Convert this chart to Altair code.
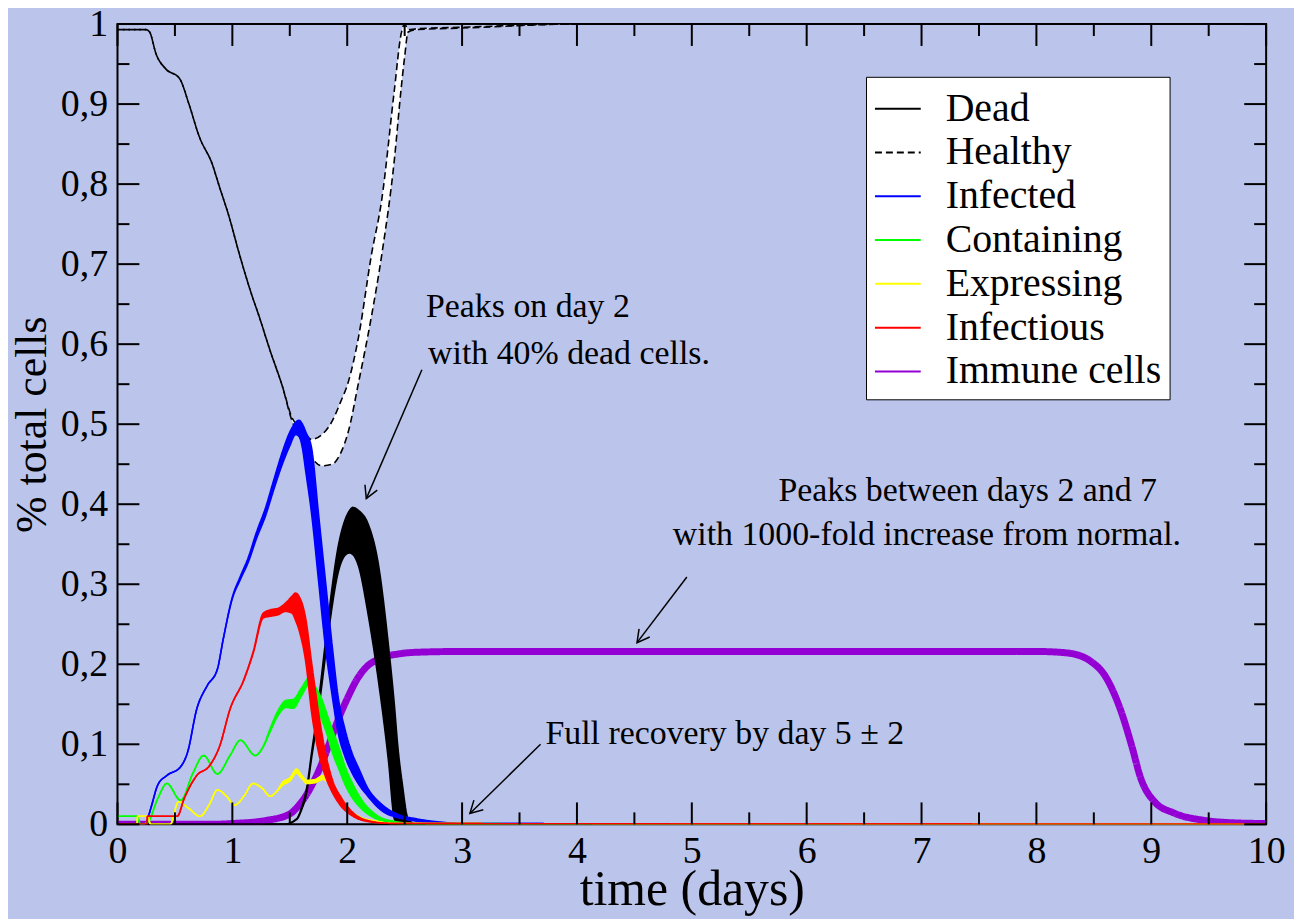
import math
import altair as alt
import pandas as pd

# ---------------- data ----------------
SERIES = ["Dead", "Healthy", "Infected", "Containing", "Expressing", "Infectious", "Immune cells"]
LINE_COLORS = ["#000000", "#000000", "#0000FF", "#00FF00", "#FFFF00", "#FF0000", "#9400D3"]
FILL_COLORS = ["#000000", "#FFFFFF", "#0000FF", "#00FF00", "#FFFF00", "#FF0000", "#9400D3"]
DASHES = [[1, 0], [7, 4], [1, 0], [1, 0], [1, 0], [1, 0], [1, 0]]

# Healthy (band: upper / lower)
healthy_x = [0, 0.25, 0.28, 0.335, 0.42, 0.54, 0.62, 0.71, 0.83, 0.88, 0.97, 1.06, 1.17, 1.23, 1.34, 1.43,
             1.52, 1.60, 1.69, 1.78, 1.87, 1.94, 2.01, 2.10, 2.21, 2.30, 2.41, 2.47, 2.50, 2.53, 2.60, 3.0, 4.0, 10]
healthy_hi = [0.993, 0.993, 0.990, 0.963, 0.944, 0.932, 0.901, 0.860, 0.823, 0.800, 0.760, 0.713, 0.661, 0.636, 0.587, 0.550,
              0.508, 0.495, 0.481, 0.487, 0.504, 0.527, 0.553, 0.610, 0.711, 0.780, 0.917, 0.988, 1.0, 0.993, 0.994, 0.996, 1.0, 1.0]
healthy_lo = [0.993, 0.993, 0.990, 0.963, 0.944, 0.932, 0.901, 0.860, 0.823, 0.800, 0.760, 0.713, 0.661, 0.636, 0.587, 0.550,
              0.504, 0.480, 0.458, 0.448, 0.450, 0.463, 0.491, 0.553, 0.634, 0.711, 0.830, 0.920, 0.959, 0.990, 0.993, 0.995, 1.0, 1.0]

# Dead
dead_x = [0, 1.45, 1.56, 1.60, 1.65, 1.69, 1.73, 1.78, 1.84, 1.92, 1.98, 2.02, 2.05, 2.10, 2.18, 2.27, 2.36, 2.41,
          2.44, 2.48, 2.53, 2.60, 10]
dead_hi = [0, 0, 0.007, 0.020, 0.048, 0.090, 0.130, 0.190, 0.264, 0.346, 0.380, 0.392, 0.396, 0.392, 0.376, 0.326, 0.222,
           0.150, 0.098, 0.050, 0.007, 0, 0]
dead_lo = [0, 0, 0.006, 0.017, 0.042, 0.083, 0.120, 0.175, 0.243, 0.314, 0.336, 0.339, 0.337, 0.322, 0.264, 0.181, 0.078,
           0.007, 0, 0, 0, 0, 0]

# Infected
inf_x = [0, 0.25, 0.26, 0.30, 0.35, 0.43, 0.55, 0.61, 0.69, 0.78, 0.87, 0.92, 1.00, 1.07, 1.14, 1.21, 1.29, 1.36, 1.43,
         1.50, 1.55, 1.58, 1.61, 1.64, 1.69, 1.75, 1.81, 1.87, 1.92, 1.98, 2.04, 2.10, 2.18, 2.30, 2.45, 2.60, 2.80, 3.00, 10]
inf_hi = [0, 0, 0.005, 0.025, 0.049, 0.061, 0.072, 0.090, 0.144, 0.173, 0.194, 0.231, 0.284, 0.310, 0.334, 0.365, 0.396,
          0.430, 0.463, 0.490, 0.502, 0.505, 0.500, 0.490, 0.470, 0.388, 0.305, 0.222, 0.160, 0.119, 0.090, 0.070, 0.045,
          0.025, 0.012, 0.007, 0.003, 0.001, 0]
inf_lo = [0, 0, 0.005, 0.025, 0.049, 0.061, 0.072, 0.090, 0.144, 0.173, 0.194, 0.231, 0.282, 0.306, 0.328, 0.357, 0.386,
          0.418, 0.448, 0.473, 0.487, 0.485, 0.470, 0.440, 0.388, 0.305, 0.222, 0.160, 0.115, 0.085, 0.065, 0.050, 0.035,
          0.017, 0.008, 0.004, 0.002, 0.001, 0]

# Containing
con_x = [0, 0.17, 0.20, 0.26, 0.35, 0.43, 0.55, 0.66, 0.75, 0.87, 0.98, 1.07, 1.20, 1.27, 1.33, 1.39, 1.47, 1.53, 1.60,
         1.67, 1.73, 1.78, 1.83, 1.87, 1.93, 1.98, 2.05, 2.12, 2.25, 2.40, 2.60, 10]
con_hi = [0.01, 0.01, 0.0, 0.002, 0.032, 0.051, 0.030, 0.065, 0.086, 0.063, 0.086, 0.105, 0.086, 0.098, 0.120, 0.140,
          0.155, 0.156, 0.170, 0.183, 0.170, 0.156, 0.135, 0.119, 0.095, 0.073, 0.050, 0.032, 0.012, 0.004, 0.001, 0]
con_lo = [0.01, 0.01, 0.0, 0.002, 0.032, 0.051, 0.030, 0.065, 0.086, 0.063, 0.086, 0.105, 0.086, 0.097, 0.116, 0.134,
          0.146, 0.145, 0.160, 0.175, 0.150, 0.130, 0.110, 0.090, 0.068, 0.050, 0.032, 0.020, 0.007, 0.002, 0.0, 0]

# Expressing
exp_x = [0, 0.17, 0.175, 0.26, 0.29, 0.46, 0.53, 0.62, 0.72, 0.80, 0.87, 0.95, 1.02, 1.10, 1.18, 1.26, 1.33, 1.38, 1.44,
         1.50, 1.56, 1.60, 1.65, 1.72, 1.79, 1.85, 1.91, 1.97, 2.02, 2.10, 2.25, 2.40, 10]
exp_hi = [0, 0, 0.01, 0.01, 0.0, 0.0, 0.028, 0.020, 0.010, 0.025, 0.043, 0.035, 0.024, 0.035, 0.051, 0.045, 0.035, 0.040,
          0.053, 0.058, 0.069, 0.062, 0.055, 0.056, 0.061, 0.055, 0.041, 0.028, 0.018, 0.010, 0.004, 0.001, 0]
exp_lo = [0, 0, 0.01, 0.01, 0.0, 0.0, 0.028, 0.020, 0.010, 0.025, 0.043, 0.035, 0.024, 0.035, 0.051, 0.045, 0.035, 0.040,
          0.049, 0.054, 0.064, 0.058, 0.051, 0.052, 0.056, 0.050, 0.037, 0.025, 0.016, 0.009, 0.004, 0.001, 0]

# Infectious
ifs_x = [0, 0.259, 0.26, 0.52, 0.58, 0.69, 0.80, 0.89, 0.98, 1.10, 1.18, 1.27, 1.33, 1.40, 1.46, 1.52, 1.55, 1.58, 1.64,
         1.69, 1.75, 1.81, 1.87, 1.95, 2.04, 2.20, 2.40, 10]
ifs_hi = [0, 0, 0.01, 0.01, 0.032, 0.061, 0.073, 0.098, 0.144, 0.181, 0.215, 0.264, 0.268, 0.270, 0.276, 0.285, 0.289,
          0.285, 0.256, 0.202, 0.140, 0.090, 0.056, 0.033, 0.016, 0.004, 0.001, 0]
ifs_lo = [0, 0, 0.01, 0.01, 0.032, 0.061, 0.073, 0.098, 0.144, 0.180, 0.213, 0.258, 0.260, 0.262, 0.266, 0.264, 0.255,
          0.243, 0.202, 0.140, 0.090, 0.060, 0.040, 0.022, 0.011, 0.003, 0.001, 0]

# Immune cells (thick line)
imm_x = [0, 0.8, 1.0, 1.3, 1.5, 1.58, 1.65, 1.72, 1.79, 1.86, 1.93, 2.01, 2.08, 2.15, 2.30, 2.45, 2.6, 3.0, 8.0, 8.2,
         8.35, 8.47, 8.60, 8.74, 8.83, 8.91, 9.03, 9.20, 9.46, 9.70, 10]
imm_y = [0, 0, 0.001, 0.005, 0.013, 0.024, 0.038, 0.057, 0.080, 0.107, 0.134, 0.160, 0.180, 0.194, 0.208, 0.213, 0.215,
         0.216, 0.216, 0.215, 0.212, 0.204, 0.185, 0.140, 0.098, 0.057, 0.028, 0.014, 0.005, 0.002, 0.001]

# Ticks
XT_MAJOR = [0, 1, 2, 3, 4, 5, 6, 7, 8, 9, 10]
XT_MINOR = [0.5, 1.5, 2.5, 3.5, 4.5, 5.5, 6.5, 7.5, 8.5, 9.5]
YT_MAJOR = [0, 0.1, 0.2, 0.3, 0.4, 0.5, 0.6, 0.7, 0.8, 0.9, 1.0]
YT_MINOR = [0.05, 0.15, 0.25, 0.35, 0.45, 0.55, 0.65, 0.75, 0.85, 0.95]

# Annotations
ANN_TEXT = ["Peaks on day 2", "with 40% dead cells.", "Peaks between days 2 and 7",
            "with 1000-fold increase from normal.", "Full recovery by day 5 \u00b1 2"]
ANN_X = [2.686, 2.704, 5.754, 4.835, 3.726]
ANN_Y = [0.646, 0.588, 0.416, 0.361, 0.113]

ARR_X1 = [2.65, 4.957, 3.683]
ARR_Y1 = [0.568, 0.309, 0.100]
ARR_X2 = [2.166, 4.523, 3.068]
ARR_Y2 = [0.407, 0.227, 0.0136]

# ---------------- chart ----------------
W, H = 1154, 804
FONT = "Liberation Serif"

rows = []
for name, xs_, hi_, lo_ in [
    ("Healthy", healthy_x, healthy_hi, healthy_lo),
    ("Dead", dead_x, dead_hi, dead_lo),
    ("Infected", inf_x, inf_hi, inf_lo),
    ("Containing", con_x, con_hi, con_lo),
    ("Expressing", exp_x, exp_hi, exp_lo),
    ("Infectious", ifs_x, ifs_hi, ifs_lo),
    ("Immune cells", imm_x, imm_y, imm_y),
]:
    assert len(xs_) == len(hi_) == len(lo_), name
    for a, b, c in zip(xs_, hi_, lo_):
        rows.append({"series": name, "x": a, "hi": b, "lo": c})
df = pd.DataFrame(rows)

xscale = alt.Scale(domain=[0, 10], nice=False, zero=False)
yscale = alt.Scale(domain=[0, 1], nice=False, zero=False)

xaxis = alt.Axis(values=XT_MAJOR, title="time (days)", ticks=False, domain=False, grid=False,
                 labelFont=FONT, labelFontSize=38, labelColor="black", labelPadding=8,
                 labelFlush=False, labelOverlap=False, format="d",
                 titleFont=FONT, titleFontSize=50, titleFontWeight="normal", titleColor="black",
                 titlePadding=-5)
yaxis = alt.Axis(values=YT_MAJOR, title="% total cells", ticks=False, domain=False, grid=False,
                 labelFont=FONT, labelFontSize=38, labelColor="black", labelPadding=10,
                 labelFlush=False, labelOverlap=False,
                 labelExpr="datum.value == 0 ? '0' : (datum.value == 1 ? '1' : replace(format(datum.value, '.1f'), '.', ','))",
                 titleFont=FONT, titleFontSize=44, titleFontWeight="normal", titleColor="black",
                 titlePadding=6)


def X(f="x"):
    return alt.X(f"{f}:Q", scale=xscale, axis=xaxis)


def Y(f="y"):
    return alt.Y(f"{f}:Q", scale=yscale, axis=yaxis)


legend = alt.Legend(title=None, orient="none", legendX=752, legendY=53,
                    fillColor="white", strokeColor="black", padding=8,
                    labelFont=FONT, labelFontSize=40, labelColor="black", labelLimit=400,
                    labelOffset=24, rowPadding=0,
                    symbolType="stroke", symbolSize=2116, symbolStrokeWidth=2)
stroke_enc = alt.Stroke("series:N", scale=alt.Scale(domain=SERIES, range=LINE_COLORS), legend=legend)
dash_enc = alt.StrokeDash("series:N", scale=alt.Scale(domain=SERIES, range=DASHES), legend=legend)

layers = []
draw_order = ["Healthy", "Immune cells", "Dead", "Infected", "Containing", "Expressing", "Infectious"]
for s in draw_order:
    base = alt.Chart(df).transform_filter(alt.datum.series == s)
    if s == "Immune cells":
        layers.append(base.mark_line(interpolate="monotone", strokeWidth=7, clip=True).encode(
            x=X(), y=Y("hi"), stroke=stroke_enc, strokeDash=dash_enc))
        continue
    layers.append(base.mark_area(interpolate="monotone", clip=True,
                                 fill=FILL_COLORS[SERIES.index(s)], opacity=1).encode(
        x=X(), y=Y("hi"), y2=alt.Y2("lo")))
    layers.append(base.mark_line(interpolate="monotone", strokeWidth=1.6, clip=True).encode(
        x=X(), y=Y("hi"), stroke=stroke_enc, strokeDash=dash_enc))
    lo_kw = {"strokeDashOffset": 5.5} if s == "Healthy" else {}
    layers.append(base.mark_line(interpolate="monotone", strokeWidth=1.6, clip=True, **lo_kw).encode(
        x=X(), y=Y("lo"), stroke=stroke_enc, strokeDash=dash_enc))

# inward ticks on all four sides
xmaj = pd.DataFrame({"x": XT_MAJOR})
xmin = pd.DataFrame({"x": XT_MINOR})
ymaj = pd.DataFrame({"y": YT_MAJOR})
ymin = pd.DataFrame({"y": YT_MINOR})
for d, ln in [(xmaj, 22), (xmin, 12)]:
    layers.append(alt.Chart(d).mark_rule(color="black", strokeWidth=2).encode(
        x=X(), y=alt.value(H), y2=alt.value(H - ln)))
    layers.append(alt.Chart(d).mark_rule(color="black", strokeWidth=2).encode(
        x=X(), y=alt.value(0), y2=alt.value(ln)))
for d, ln in [(ymaj, 22), (ymin, 12)]:
    layers.append(alt.Chart(d).mark_rule(color="black", strokeWidth=2).encode(
        y=Y(), x=alt.value(0), x2=alt.value(ln)))
    layers.append(alt.Chart(d).mark_rule(color="black", strokeWidth=2).encode(
        y=Y(), x=alt.value(W), x2=alt.value(W - ln)))

# annotations
ann = pd.DataFrame({"t": ANN_TEXT, "x": ANN_X, "y": ANN_Y})
layers.append(alt.Chart(ann).mark_text(align="left", baseline="middle", font=FONT, fontSize=34,
                                       color="black").encode(x=X(), y=Y(), text="t:N"))

ang = [math.degrees(math.atan2(-(y2 - y1) * H, (x2 - x1) * W / 10.0)) % 360
       for x1, y1, x2, y2 in zip(ARR_X1, ARR_Y1, ARR_X2, ARR_Y2)]
arr = pd.DataFrame({"x": ARR_X1, "y": ARR_Y1, "x2": ARR_X2, "y2": ARR_Y2, "ang": ang})
layers.append(alt.Chart(arr).mark_rule(color="black", strokeWidth=1.5).encode(
    x=X(), y=Y(), x2=alt.X2("x2"), y2=alt.Y2("y2")))
layers.append(alt.Chart(arr).mark_point(shape="M-1,-0.55L0,0L-1,0.55", size=600, filled=False,
                                        stroke="black", strokeWidth=1.5, opacity=1).encode(
    x=X("x2"), y=Y("y2"), angle=alt.Angle("ang:Q", scale=None)))

chart = alt.layer(*layers).properties(
    width=W, height=H,
    padding={"left": 110, "top": 14, "right": 28, "bottom": 95},
    autosize=alt.AutoSizeParams(type="none"),
).configure(background="#BBC5EC").configure_view(stroke="black", strokeWidth=2)

chart.save("out.html", embed_options={"renderer": "svg", "actions": False})
